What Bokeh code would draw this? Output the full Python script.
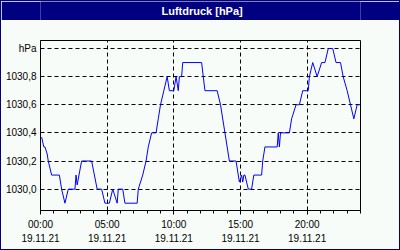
from bokeh.plotting import figure
from bokeh.layouts import column
from bokeh.models import LinearAxis, FixedTicker, Range1d, Grid
from bokeh.core.properties import value
from bokeh.embed import file_html
from bokeh.resources import INLINE

title = "Luftdruck [hPa]"
# minutes after 19.11.21 00:00
minutes = [5, 15, 20, 30, 35, 50, 85, 95, 110, 125, 155, 160, 165, 185, 230, 255, 275,
           290, 310, 325, 345, 350, 370, 380, 435, 440, 460, 475, 485, 500, 520, 530,
           540, 555, 570, 580, 600, 610, 620, 625, 635, 640, 725, 740, 795, 810, 830,
           850, 880, 895, 905, 910, 915, 920, 935, 950, 960, 995, 1000, 1010, 1065,
           1070, 1075, 1080, 1120, 1130, 1150, 1165, 1180, 1205, 1210, 1225, 1245,
           1265, 1280, 1295, 1315, 1330, 1350, 1362, 1380, 1395, 1410, 1425, 1440]
pressure = [1030.37, 1030.3, 1030.3, 1030.25, 1030.2, 1030.1, 1030.1, 1030.0, 1029.9,
            1030.0, 1030.0, 1030.1, 1030.03, 1030.2, 1030.2, 1030.0, 1030.0, 1029.9,
            1029.9, 1030.0, 1029.9, 1030.0, 1030.0, 1029.9, 1029.9, 1030.0, 1030.1,
            1030.2, 1030.3, 1030.4, 1030.4, 1030.5, 1030.6, 1030.7, 1030.8, 1030.7,
            1030.7, 1030.8, 1030.7, 1030.8, 1030.8, 1030.9, 1030.9, 1030.7, 1030.7,
            1030.6, 1030.4, 1030.2, 1030.2, 1030.05, 1030.1, 1030.05, 1030.1, 1030.1,
            1030.0, 1030.0, 1030.1, 1030.1, 1030.2, 1030.3, 1030.3, 1030.4, 1030.3,
            1030.4, 1030.4, 1030.5, 1030.6, 1030.6, 1030.7, 1030.7, 1030.8, 1030.9,
            1030.8, 1030.9, 1030.9, 1031.0, 1031.0, 1030.9, 1030.9, 1030.8, 1030.7,
            1030.6, 1030.5, 1030.6, 1030.6]
x_ticks = [0, 300, 600, 900, 1200]
x_time_labels = ["00:00", "05:00", "10:00", "15:00", "20:00"]
x_date_labels = ["19.11.21", "19.11.21", "19.11.21", "19.11.21", "19.11.21"]
y_ticks = [1030.0, 1030.2, 1030.4, 1030.6, 1030.8, 1031.0]
y_labels = ["1030,0", "1030,2", "1030,4", "1030,6", "1030,8", "hPa"]

NAVY = "#000080"
BG = "#F8FCF8"
FONT = "Liberation Sans"

# title bar
t = figure(width=398, height=19, output_backend="svg", toolbar_location=None,
           x_range=Range1d(0, 1), y_range=Range1d(0, 1),
           min_border=0, background_fill_color=NAVY, border_fill_color=NAVY,
           outline_line_color=None)
t.axis.visible = False
t.grid.visible = False
t.text(x=[0.505], y=[0.5], text=[title], text_color="white", text_align="center",
       text_baseline="middle", text_font=value(FONT), text_font_style="bold",
       text_font_size="11px")

p = figure(width=398, height=229, output_backend="svg", toolbar_location=None,
           x_range=Range1d(0, 1440), y_range=Range1d(1029.848, 1031.057),
           min_border_left=39, min_border_right=39, min_border_top=20,
           min_border_bottom=39, background_fill_color=BG, border_fill_color=BG,
           outline_line_color="black", x_axis_location=None, y_axis_location=None)

xt = FixedTicker(ticks=x_ticks, minor_ticks=list(range(0, 1441, 60)))
ax1 = LinearAxis(ticker=xt, major_label_overrides=dict(zip(x_ticks, x_time_labels)))
ax2 = LinearAxis(ticker=xt, major_label_overrides=dict(zip(x_ticks, x_date_labels)))
for ax in (ax1, ax2):
    ax.major_label_text_font = FONT
    ax.major_label_text_font_size = "10px"
    ax.major_label_text_color = "black"
ax1.axis_line_color = "black"
ax1.major_tick_in = 0
ax1.major_tick_out = 4
ax1.minor_tick_in = 0
ax1.minor_tick_out = 3
ax1.major_tick_line_color = "black"
ax1.minor_tick_line_color = "black"
ax1.major_label_standoff = 4
ax2.axis_line_color = None
ax2.major_tick_line_color = None
ax2.minor_tick_line_color = None
ax2.major_tick_in = 0
ax2.major_tick_out = 0
ax2.minor_tick_in = 0
ax2.minor_tick_out = 0
ax2.major_label_standoff = 1
p.add_layout(ax1, "below")
p.add_layout(ax2, "below")

yt = FixedTicker(ticks=y_ticks, minor_ticks=[])
ay = LinearAxis(ticker=yt, major_label_overrides=dict(zip(y_ticks, y_labels)))
ay.major_label_text_font = FONT
ay.major_label_text_font_size = "10px"
ay.major_label_text_color = "black"
ay.axis_line_color = "black"
ay.major_tick_in = 0
ay.major_tick_out = 0
ay.minor_tick_line_color = None
ay.major_label_standoff = 4
p.add_layout(ay, "left")

p.xgrid.grid_line_color = None
p.ygrid.grid_line_color = None
p.add_layout(Grid(dimension=0, ticker=xt, grid_line_color="black", grid_line_dash="4 3"))
p.add_layout(Grid(dimension=1, ticker=yt, grid_line_color="black", grid_line_dash="4 3"))

p.line(minutes, pressure, line_color="#0000F8", line_width=1)

layout = column(t, p, spacing=0, styles={"border": "1px solid " + NAVY})

open("out.html", "w").write(file_html(layout, INLINE))
